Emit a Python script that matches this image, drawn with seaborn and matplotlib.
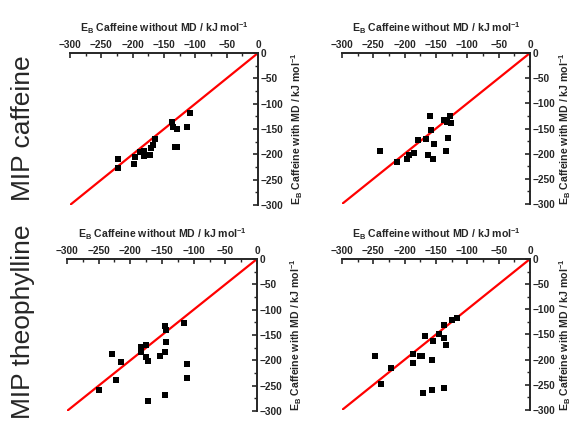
import matplotlib
matplotlib.use("Agg")
import matplotlib.pyplot as plt
from matplotlib.ticker import MultipleLocator
import seaborn as sns
import pandas as pd

# ---- data (kJ/mol) ----
# top-left: MIP caffeine, panel A
p1_x = [-224, -224, -198, -196, -188, -182, -182, -173, -170, -167, -165, -138, -136, -130, -133, -130, -114, -108]
p1_y = [-210, -227, -219, -206, -196, -194, -204, -202, -187, -181, -170, -137, -146, -150, -186, -185, -147, -118]
# top-right: MIP caffeine, panel B
p2_x = [-239, -212, -196, -193, -185, -179, -166, -163, -159, -158, -155, -153, -137, -134, -131, -128, -126, -132]
p2_y = [-194, -217, -211, -202, -198, -173, -170, -202, -126, -153, -210, -181, -133, -194, -168, -125, -140, -137]
# bottom-left: MIP theophylline, panel A
p3_x = [-250, -229, -222, -215, -183, -176, -183, -176, -172, -172, -153, -145, -143, -145, -143, -146, -116, -111, -111]
p3_y = [-258, -187, -239, -203, -173, -170, -183, -194, -201, -281, -191, -183, -164, -133, -140, -268, -127, -208, -235]
# bottom-right: MIP theophylline, panel B
p4_x = [-247, -237, -222, -187, -186, -175, -173, -171, -167, -156, -156, -154, -145, -138, -134, -138, -137, -124, -116]
p4_y = [-192, -249, -217, -188, -207, -192, -192, -266, -152, -201, -261, -162, -150, -157, -171, -256, -131, -122, -118]

panels = [(p1_x, p1_y), (p2_x, p2_y), (p3_x, p3_y), (p4_x, p4_y)]
row_labels = ["MIP caffeine", "MIP theophylline"]
xlabel = r"$\mathbf{E_B}$ Caffeine without MD / kJ mol$^{\mathbf{-1}}$"
ylabel = r"$\mathbf{E_B}$ Caffeine with MD / kJ mol$^{\mathbf{-1}}$"
ticks = [-300, -250, -200, -150, -100, -50, 0]

sns.set_style("ticks")
plt.rcParams["font.family"] = ["Liberation Sans", "DejaVu Sans"]
plt.rcParams["mathtext.fontset"] = "custom"
plt.rcParams["mathtext.rm"] = "Liberation Sans"
plt.rcParams["mathtext.bf"] = "Liberation Sans:bold"
plt.rcParams["mathtext.it"] = "Liberation Sans:italic"

W, H = 573, 423
fig = plt.figure(figsize=(W / 100, H / 100), dpi=100)
fig.patch.set_facecolor("white")

# axes boxes in pixels: (x0, x1, ytop, ybottom)
boxes = [(70, 258, 53, 205), (342, 530, 53, 204), (67, 257, 259, 411), (342, 530, 259, 410)]
ypads = [4, 1, 4, 1]

for (px, py), (x0, x1, yt, yb), ypad in zip(panels, boxes, ypads):
    ax = fig.add_axes([x0 / W, 1 - yb / H, (x1 - x0) / W, (yb - yt) / H])
    df = pd.DataFrame({"x": px, "y": py})
    ax.axline((0, 0), slope=1, color="#ff0000", lw=1.6, zorder=1)
    sns.scatterplot(data=df, x="x", y="y", ax=ax, marker="s", s=16,
                    color="black", edgecolor="black", linewidth=0, zorder=3)
    ax.set_xlim(-300, 0)
    ax.set_ylim(-300, 0)
    for s in ["left", "bottom"]:
        ax.spines[s].set_visible(False)
    for s in ["top", "right"]:
        ax.spines[s].set_visible(True)
        ax.spines[s].set_linewidth(1.4)
    ax.xaxis.tick_top()
    ax.yaxis.tick_right()
    ax.xaxis.set_label_position("top")
    ax.yaxis.set_label_position("right")
    ax.set_xticks(ticks)
    ax.set_yticks(ticks)
    ax.xaxis.set_minor_locator(MultipleLocator(25))
    ax.yaxis.set_minor_locator(MultipleLocator(25))
    ax.tick_params(which="major", direction="in", length=3.5, width=1.2,
                   labelsize=7.3, pad=2.5)
    ax.tick_params(axis="y", which="major", pad=2)
    ax.tick_params(which="minor", direction="in", length=2, width=1.0)
    for lab in ax.get_xticklabels() + ax.get_yticklabels():
        lab.set_fontweight("bold")
    ax.set_xlabel(xlabel, fontsize=7.6, fontweight="bold", labelpad=5)
    ax.set_ylabel(ylabel, fontsize=7.6, fontweight="bold", labelpad=ypad,
                  rotation=90)
    ax.patch.set_alpha(0)

fig.text(23 / W, 1 - 128 / H, row_labels[0], rotation=90, fontsize=19,
         ha="center", va="center")
fig.text(23 / W, 1 - 322 / H, row_labels[1], rotation=90, fontsize=19,
         ha="center", va="center")

fig.savefig("out.png", dpi=100, facecolor="white")
